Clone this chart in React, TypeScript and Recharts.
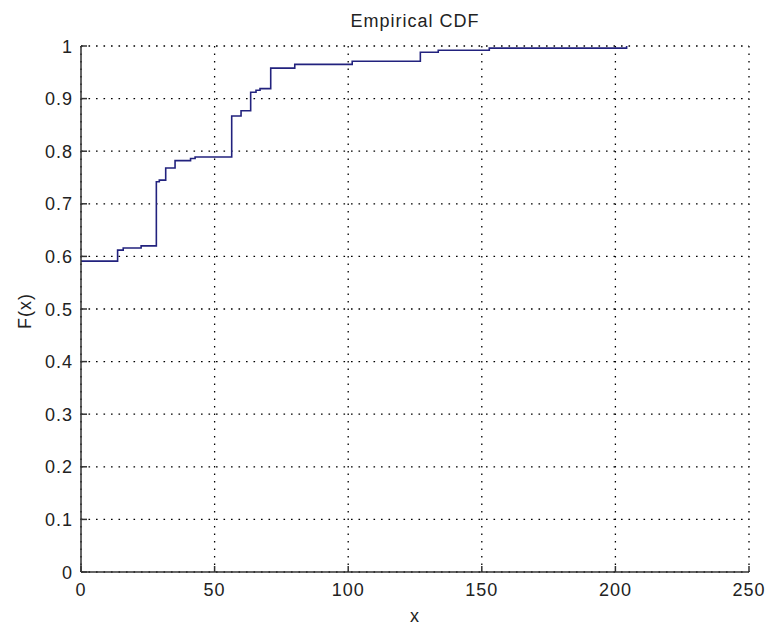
import React from 'react';
import { LineChart, Line, XAxis, YAxis, CartesianGrid } from 'recharts';

// step positions (x) and the CDF value reached at each step
const stepX = [0, 13.7, 15.8, 22.5, 28.2, 29.3, 31.7, 35.2, 41, 42.7, 56.4, 59.9, 63.5, 65.5, 67, 71, 80, 101.5, 127, 133.7, 152.8, 204.2];
const stepF = [0.591, 0.612, 0.616, 0.62, 0.742, 0.745, 0.768, 0.782, 0.786, 0.789, 0.867, 0.877, 0.912, 0.916, 0.919, 0.958, 0.965, 0.971, 0.988, 0.992, 0.996, 1.0];

const xTicks = [0, 50, 100, 150, 200, 250];
const yTicks = [0, 0.1, 0.2, 0.3, 0.4, 0.5, 0.6, 0.7, 0.8, 0.9, 1];

const chartData = stepX.map((x, i) => ({ x, f: stepF[i] }));

const FONT = '"Liberation Sans", Arial, sans-serif';
const TICK_LEN = 6;
const textStyle = { fontFamily: FONT, fontSize: 18, letterSpacing: 1, fill: '#222' };

const fmt = (v: number) => (v === 0 || v === 1 ? String(v) : v.toFixed(1));

const BottomTick = ({ x, y, payload }: any) => (
  <g>
    <line x1={x} y1={y} x2={x} y2={y - TICK_LEN} stroke="#333" strokeWidth={1.5} />
    <text x={x} y={y + 24} textAnchor="middle" style={textStyle}>{payload.value}</text>
  </g>
);

const TopTick = ({ x, y }: any) => (
  <line x1={x} y1={y} x2={x} y2={y + TICK_LEN} stroke="#333" strokeWidth={1.5} />
);

const LeftTick = ({ x, y, payload }: any) => (
  <g>
    <line x1={x} y1={y} x2={x + TICK_LEN} y2={y} stroke="#333" strokeWidth={1.5} />
    <text x={x - 8} y={y + 6.5} textAnchor="end" style={textStyle}>{fmt(payload.value)}</text>
  </g>
);

const RightTick = ({ x, y }: any) => (
  <line x1={x} y1={y} x2={x - TICK_LEN} y2={y} stroke="#333" strokeWidth={1.5} />
);

const App = () => {
  return (
    <div style={{ position: 'absolute', left: 0, top: 0, width: 767, height: 626, background: '#fff' }}>
      <LineChart
        width={767}
        height={626}
        data={chartData}
        margin={{ top: 46, right: 18, bottom: 24, left: 41 }}
      >
        <CartesianGrid stroke="#000" strokeDasharray="1.6 5.9" strokeWidth={1.3} />
        <XAxis
          dataKey="x"
          type="number"
          domain={[0, 250]}
          ticks={xTicks}
          height={30}
          tickSize={0}
          tickMargin={0}
          tickLine={false}
          axisLine={{ stroke: '#333', strokeWidth: 1.5 }}
          tick={<BottomTick />}
        />
        <XAxis
          xAxisId="top"
          orientation="top"
          dataKey="x"
          type="number"
          domain={[0, 250]}
          ticks={xTicks}
          height={0}
          tickSize={0}
          tickMargin={0}
          tickLine={false}
          axisLine={{ stroke: '#333', strokeWidth: 1.5 }}
          tick={<TopTick />}
        />
        <YAxis
          type="number"
          domain={[0, 1]}
          ticks={yTicks}
          width={40}
          tickSize={0}
          tickMargin={0}
          tickLine={false}
          axisLine={{ stroke: '#333', strokeWidth: 1.5 }}
          tick={<LeftTick />}
        />
        <YAxis
          yAxisId="right"
          orientation="right"
          type="number"
          domain={[0, 1]}
          ticks={yTicks}
          width={0}
          tickSize={0}
          tickMargin={0}
          tickLine={false}
          axisLine={{ stroke: '#333', strokeWidth: 1.5 }}
          tick={<RightTick />}
        />
        <Line
          type="stepAfter"
          dataKey="f"
          stroke="#22227e"
          strokeWidth={1.6}
          dot={false}
          isAnimationActive={false}
        />
      </LineChart>
      <div style={{ position: 'absolute', left: 315, width: 200, top: 10, textAlign: 'center', fontFamily: FONT, fontSize: 18, letterSpacing: 1, color: '#222', lineHeight: '22px' }}>
        Empirical CDF
      </div>
      <div style={{ position: 'absolute', left: 365, width: 100, top: 605, textAlign: 'center', fontFamily: FONT, fontSize: 18, letterSpacing: 1, color: '#222', lineHeight: '22px' }}>
        x
      </div>
      <div style={{ position: 'absolute', left: -25, width: 100, top: 300, textAlign: 'center', fontFamily: FONT, fontSize: 18, letterSpacing: 1, color: '#222', lineHeight: '22px', transform: 'rotate(-90deg)' }}>
        F(x)
      </div>
    </div>
  );
};

export default App;
